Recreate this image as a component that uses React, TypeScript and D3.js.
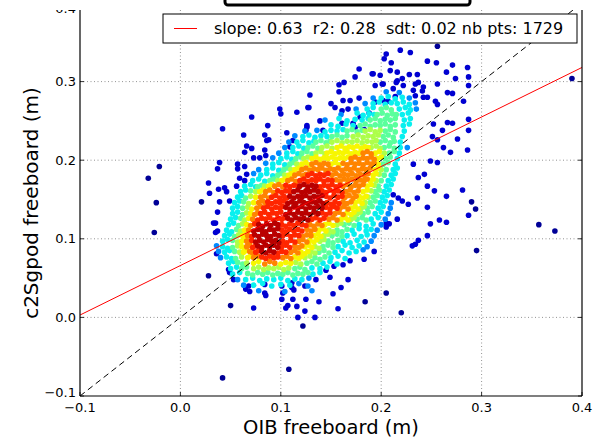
import React from "react";
import * as d3 from "d3";

// ---------- axis / legend data ----------
const xTicks = [-0.1, 0.0, 0.1, 0.2, 0.3, 0.4];
const yTicks = [-0.1, 0.0, 0.1, 0.2, 0.3];
const xGrid = [0.0, 0.1, 0.2, 0.3];
const yGrid = [0.0, 0.1, 0.2, 0.3];
const fitSlope = 0.63;
const fitIntercept = 0.066;
const legendLabel = "slope: 0.63  r2: 0.28  sdt: 0.02 nb pts: 1729";
const xLabel = "OIB freeboard (m)";
const yLabel = "c2Sgpod freeboard (m)";

// ---------- scatter points: flat x,y pairs in millimetres, grouped by point density (colour level) ----------
const outlierPts = [390,304, 357,118, 373,110, 295,85, -21,192, -32,177, -24,146, -26,108, 42,-77, 108,-66, 220,6, 122,-11, 294,138, 290,147, 256,345, 21,147, 28,53, 50,15, 184,20, 205,31];

const bluePts = [
  219,340, 229,337, 205,335, 203,329, 210,324, 246,326, 255,324, 271,321, 286,318, 178,316, 192,310, 174,306, 201,297, 158,296, 163,299, 215,299, 221,304, 228,309, 236,309, 234,297, 242,293, 246,280, 256,297, 265,312, 274,304, 287,306, 287,295, 271,285, 266,286, 282,275, 287,252, 287,238, 286,213, 276,227, 271,247, 266,248, 261,238, 262,216, 269,210, 256,226, 251,230, 252,246, 256,271, 254,275,
  232,195, 249,199, 256,197, 237,178, 243,182, 246,167, 253,161, 265,154, 281,162, 287,130, 236,152, 227,144, 246,140, 249,119, 258,124, 265,121, 237,98, 234,93, 231,91, 246,104, 221,148, 217,152, 212,156, 216,125, 208,119, 205,115, 205,120, 193,84,
  134,0, 124,8, 157,11, 138,20, 152,30, 160,38, 124,40, 167,48, 135,48, 149,51, 145,60, 153,65, 162,67, 169,72, 183,74,
  49,57, 65,36, 68,40, 84,31, 85,28, 73,12, 105,12, 107,15, 116,14, 112,23, 101,23, 102,31, 111,38, 113,35, 125,23, 117,0, 111,44, 101,40, 84,42, 53,48, 48,61, 69,33,
  36,81, 35,120, 29,158, 28,171, 38,163, 44,165, 46,160, 39,147, 49,148, 37,134, 33,120, 56,167, 59,177, 57,189, 64,192, 66,182, 57,195, 39,197, 37,189, 64,174, 64,210, 66,218, 63,232, 71,215, 73,203, 79,203, 84,213, 85,206, 86,225, 88,226, 87,244, 84,232, 99,265, 100,259, 106,235, 112,225, 116,261, 126,244, 127,267, 129,283, 71,255, 42,240, 109,217, 35,108, 37,110,
  128,267, 126,242, 125,238, 139,250, 142,238, 150,272, 154,267, 158,287, 162,276, 169,276, 167,265, 161,263, 161,247, 172,247, 174,242, 178,279, 179,255, 183,239, 188,260, 194,274, 202,276, 207,275, 214,281, 212,291, 202,297, 232,289, 241,288, 234,282, 242,280, 194,295, 199,308, 209,314, 216,312, 191,310, 216,301, 222,295, 237,299
];

const cyanBluePts = [
  78,34, 104,33, 131,34, 63,41, 118,43, 127,40, 57,48, 128,50, 40,76, 38,84, 36,91,
  182,86, 186,90, 190,97, 193,104, 196,111, 200,118, 204,125, 207,132, 209,139, 210,146,
  73,183, 78,188, 85,196, 92,203, 98,209, 104,216, 226,216, 108,223, 114,231, 124,237, 136,238, 144,251, 160,258, 175,265, 235,265, 184,272, 234,273, 192,279, 228,279, 205,287, 218,286
];

const cyanPts = [
  73,41, 82,43, 91,40, 100,42, 109,41,
  65,48, 72,50, 79,47, 86,49, 93,48, 100,50, 107,47, 114,49, 121,48,
  52,55, 59,57, 132,55, 139,57,
  50,62, 56,64, 131,63, 139,62, 146,64,
  48,69, 53,71, 142,69, 149,71, 156,68,
  46,77, 51,75, 150,76, 157,78, 164,75,
  44,83, 49,85, 154,83, 161,85, 168,82, 175,84,
  42,90, 47,88, 157,90, 164,92, 171,89, 178,91,
  42,97, 47,99, 162,97, 169,95, 176,98, 183,96,
  44,104, 49,106, 166,104, 173,106, 180,103, 186,105,
  46,111, 51,109, 171,111, 178,113, 185,110, 190,112,
  48,118, 53,120, 178,118, 185,116, 192,119,
  50,125, 55,127, 190,125, 197,127,
  52,132, 57,134, 194,132, 200,134,
  52,139, 57,141, 197,139, 202,141,
  54,146, 59,148, 199,146, 204,148,
  57,153, 61,155, 201,153, 206,155,
  60,160, 65,162, 203,160, 208,162,
  64,167, 70,169, 75,166, 205,167, 210,169,
  72,174, 78,176, 84,173, 207,174, 212,176,
  80,181, 86,183, 92,180, 210,181, 214,183,
  86,188, 92,190, 98,187, 212,188, 216,190,
  92,195, 98,197, 104,194, 214,195,
  100,202, 106,204, 111,201, 216,202,
  106,209, 112,211, 117,208, 218,209,
  112,216, 118,218, 123,215, 219,216,
  116,223, 122,225, 128,222, 133,224, 219,223,
  122,230, 128,232, 134,229, 140,231, 146,230, 221,230,
  144,236, 150,238, 156,237, 162,239, 223,237,
  150,245, 157,243, 165,246, 172,244, 222,244, 228,246,
  158,253, 166,250, 174,252, 181,251, 187,253, 223,251, 229,253,
  176,260, 182,257, 188,259, 193,258, 221,258, 227,260,
  186,265, 192,267, 218,265, 224,267, 229,264,
  192,272, 198,274, 204,271, 210,273, 216,272, 222,274, 228,271,
  200,279, 207,281, 214,278, 221,280
];

const greenPts = [
  67,56, 72,54, 77,57, 82,55, 87,57, 92,54, 97,56, 102,55, 107,57, 112,54, 117,56, 122,55, 127,57,
  61,62, 66,64, 114,62, 119,64, 124,61,
  57,70, 62,68, 126,69, 131,71, 136,68,
  55,75, 134,76, 139,74, 144,77,
  54,84, 138,83, 143,85, 148,82,
  52,89, 142,90, 147,92, 152,89,
  52,98, 147,97, 152,95, 157,98,
  54,103, 151,104, 156,106, 161,103,
  56,112, 156,111, 161,109, 166,112,
  58,117, 163,118, 168,120, 173,117,
  60,126, 176,125, 181,127, 185,124,
  62,131, 182,132, 187,134,
  62,139, 186,139, 191,141,
  63,147, 189,146, 194,148,
  65,152, 192,153, 196,155,
  70,161, 194,160, 198,162,
  77,166, 81,168, 197,167,
  89,174, 93,176, 200,174,
  97,181, 101,183, 203,181,
  103,188, 107,190, 205,188,
  109,195, 113,197, 202,195, 207,197,
  115,202, 120,204, 204,202, 209,204,
  121,209, 126,211, 131,208, 208,209, 213,211,
  127,216, 132,218, 137,215, 203,216, 208,218, 213,215,
  135,223, 140,225, 145,222, 149,224, 199,223, 204,225, 209,222, 213,224,
  151,230, 156,232, 161,229, 166,231, 202,230, 207,232, 212,229,
  166,237, 171,239, 176,236, 181,238, 204,237, 209,239, 214,236,
  179,244, 184,246, 189,243, 194,245, 199,244, 204,246, 209,243, 214,245,
  189,251, 194,253, 199,250, 204,252, 209,251, 214,253,
  196,258, 201,260, 206,257, 211,259, 215,258,
  200,265, 205,267, 210,264
];

const yellowGreenPts = [
  73,62, 78,64, 83,61, 88,63, 93,62, 98,64, 103,61, 108,63,
  66,69, 115,70, 120,68,
  61,77, 124,76, 129,78,
  59,83, 130,84, 134,82,
  57,91, 134,90, 138,88,
  57,96, 139,97, 143,99,
  58,105, 143,104, 147,106,
  60,110, 148,111, 152,109,
  62,119, 156,118, 160,120,
  64,124, 170,125, 173,127,
  66,133, 176,132, 179,134,
  67,140, 180,139, 183,141,
  68,145, 184,146,
  70,154, 187,153,
  75,160, 190,161,
  84,167, 193,168,
  97,174, 195,174,
  104,181, 198,182,
  110,188, 200,188,
  116,195,
  123,202, 127,204,
  135,209, 140,211, 144,208, 203,209,
  141,216, 146,218, 151,215, 190,216, 195,218, 199,215,
  151,223, 156,225, 161,222, 166,224, 171,223, 176,225, 181,222, 186,224, 191,223, 195,225,
  172,230, 177,232, 182,229, 187,231, 192,230, 197,232,
  184,237, 189,239, 194,236, 199,238
];

const yellowPts = [
  73,69, 78,71, 100,68, 105,70, 110,69,
  67,76, 70,78, 114,77, 118,75, 121,78,
  63,83, 66,85, 120,83, 124,81, 127,84,
  61,90, 64,88, 124,90, 128,92, 131,89,
  61,97, 64,99, 129,98, 133,96, 136,99,
  62,104, 65,102, 133,104, 137,106, 140,103,
  64,111, 138,111, 142,113, 145,110,
  66,118, 144,118, 148,120, 152,117,
  68,126, 160,125, 164,127, 167,124,
  70,132, 166,133, 170,131, 173,134,
  71,138, 170,139, 174,141, 177,138,
  73,146, 174,146, 178,148, 181,145,
  75,153, 178,154, 182,152, 185,154,
  79,160, 82,162, 182,160, 186,162,
  88,167, 91,169, 186,167, 190,169,
  101,174, 104,176, 189,174, 192,176,
  108,181, 111,183, 192,181, 195,183,
  114,188, 118,190, 194,188, 197,190,
  121,195, 125,197, 129,194, 150,195, 154,197, 158,194, 197,195,
  131,202, 135,204, 139,201, 143,203, 147,202, 151,204, 155,201, 159,203, 163,202, 167,204, 196,202, 200,204,
  146,209, 150,211, 154,208, 158,210, 162,209, 166,211, 170,208, 174,210, 178,209, 194,209, 198,211,
  156,216, 160,218, 164,215, 168,217, 172,216, 176,218, 180,215, 184,217, 187,216
];

const orangePts = [
  84,68, 89,71, 94,69,
  73,76, 77,78, 102,76, 106,78, 110,75,
  69,84, 72,82, 110,83, 114,85, 117,82,
  66,90, 69,92, 114,91, 118,89, 121,91,
  66,97, 69,95, 118,97, 122,99, 126,96,
  67,104, 122,103, 126,105, 130,104,
  68,111, 126,112, 130,110, 134,112,
  70,117, 129,118, 133,116, 137,119, 141,117,
  72,125, 148,125, 152,127, 156,124,
  74,131, 77,133, 154,132, 158,134, 162,131,
  76,139, 80,141, 159,139, 163,141, 167,138,
  78,146, 82,148, 85,145, 162,147, 166,145, 170,147,
  80,153, 84,155, 88,152, 164,153, 168,155, 172,152, 175,154,
  85,160, 89,162, 93,159, 165,160, 169,162, 173,159, 177,161,
  94,167, 98,169, 102,166, 162,167, 166,169, 170,166, 174,168, 178,167, 182,169,
  107,174, 111,176, 115,173, 155,175, 159,173, 163,176, 167,174, 171,176, 175,173, 179,175, 183,174, 186,176,
  114,181, 118,183, 122,180, 125,182, 151,181, 155,183, 159,180, 163,182, 167,181, 171,183, 175,180, 179,182, 183,181, 187,183,
  121,188, 125,190, 129,187, 133,189, 137,188, 141,190, 145,187, 149,189, 153,188, 157,190, 161,187, 165,189, 169,188, 173,190, 177,187, 181,189, 185,188, 189,190,
  131,195, 135,197, 139,194, 143,196, 147,195, 162,196, 166,194, 170,197, 174,195, 178,196, 182,194, 186,197, 190,195, 193,196,
  170,202, 174,204, 178,201, 182,203, 186,202, 190,204, 193,201,
  182,209, 186,211, 190,208
];

const redPts = [
  81,77, 85,75, 89,78, 93,76, 97,77,
  75,83, 78,85, 97,82, 101,84, 105,83,
  72,89, 75,91, 101,90, 105,92, 109,89,
  71,98, 102,97, 106,95, 110,98, 114,96,
  71,103, 102,104, 106,106, 110,103, 114,105, 118,104,
  101,111, 105,109, 109,112, 113,110, 117,112, 121,110,
  74,119, 101,118, 105,116, 109,119, 113,117, 117,120, 121,118, 125,117,
  77,124, 81,126, 85,125, 89,127, 93,124, 97,126, 101,125, 104,127, 131,125, 135,127, 139,124, 143,126,
  80,132, 84,134, 88,131, 92,133, 96,132, 100,134, 141,133, 145,131, 149,133,
  83,139, 87,141, 91,138, 95,140, 99,139, 102,141, 145,140, 149,138, 153,141, 156,139,
  87,147, 91,145, 95,147, 99,146, 103,148, 146,146, 150,144, 154,147, 158,145,
  91,153, 95,155, 99,152, 103,154, 106,152, 145,154, 149,152, 153,155, 157,153, 161,154,
  97,161, 101,159, 105,161, 109,160, 141,161, 145,159, 149,162, 153,160, 157,161, 161,159,
  105,168, 109,166, 113,168, 117,167, 139,166, 143,168, 147,167, 151,169, 155,166, 159,168,
  119,174, 123,176, 127,173, 131,175, 135,174, 139,176, 143,173, 147,175, 151,174,
  127,181, 131,183, 135,180, 139,182, 143,181, 147,183
];

const darkRedPts = [
  81,84, 85,82, 89,85, 93,83,
  77,91, 81,89, 85,92, 89,90, 93,92, 97,89,
  75,96, 79,98, 83,96, 87,99, 91,97, 95,98, 98,95,
  74,105, 78,103, 82,106, 86,104, 90,103, 94,106, 98,104,
  73,110, 77,112, 81,111, 85,109, 89,112, 93,111, 97,113,
  78,118, 82,116, 86,119, 90,117, 94,120, 97,118,
  107,126, 111,124, 115,127, 119,125, 123,126, 127,124,
  105,131, 109,133, 113,131, 117,134, 121,132, 125,133, 129,131, 133,134, 137,132,
  105,140, 109,138, 113,141, 117,139, 121,141, 125,138, 129,140, 133,139, 137,141, 141,139,
  107,145, 111,147, 115,145, 119,148, 123,146, 127,145, 131,147, 135,146, 139,148, 142,145,
  109,154, 113,152, 117,154, 121,153, 125,155, 129,152, 133,154, 137,153, 141,155,
  113,160, 117,162, 121,159, 125,161, 129,160, 133,162, 137,160,
  119,167, 123,169, 127,166, 131,168, 135,167
];

// density level (0..1 on the jet colour scale) for each group
const densityGroups: { pts: number[]; level: number }[] = [
  { pts: outlierPts, level: 0.02 },
  { pts: bluePts, level: 0.07 },
  { pts: cyanBluePts, level: 0.26 },
  { pts: cyanPts, level: 0.36 },
  { pts: greenPts, level: 0.46 },
  { pts: yellowGreenPts, level: 0.56 },
  { pts: yellowPts, level: 0.65 },
  { pts: orangePts, level: 0.77 },
  { pts: redPts, level: 0.87 },
  { pts: darkRedPts, level: 0.95 },
];

// matplotlib "jet" colormap segment data
const jetR = d3.scaleLinear<number>().domain([0, 0.35, 0.66, 0.89, 1]).range([0, 0, 1, 1, 0.5]).clamp(true);
const jetG = d3.scaleLinear<number>().domain([0, 0.125, 0.375, 0.64, 0.91, 1]).range([0, 0, 1, 1, 0, 0]).clamp(true);
const jetB = d3.scaleLinear<number>().domain([0, 0.11, 0.34, 0.65, 1]).range([0.5, 1, 1, 0, 0]).clamp(true);
const jet = (t: number) => d3.rgb(jetR(t) * 255, jetG(t) * 255, jetB(t) * 255).formatHex();

const W = 596, H = 438;
const L = 80, R = 582, T = 10, B = 396;
const FONT = "'DejaVu Sans', sans-serif";

const fmt = (v: number) => {
  const s = Math.abs(v).toFixed(1);
  return v < -1e-9 ? "\u2212" + s : s;
};

export default function App() {
  const x = d3.scaleLinear().domain([-0.1, 0.4]).range([L, R]);
  const y = d3.scaleLinear().domain([-0.1, 0.4]).range([B, 3]);

  const circles: JSX.Element[] = [];
  densityGroups.forEach((g, gi) => {
    const col = jet(g.level);
    for (let i = 0; i + 1 < g.pts.length; i += 2) {
      circles.push(
        <circle key={`${gi}-${i}`} cx={x(g.pts[i] / 1000)} cy={y(g.pts[i + 1] / 1000)} r={2.8} fill={col} />
      );
    }
  });

  const fitLine = d3.line<number>().x((d) => x(d)).y((d) => y(fitSlope * d + fitIntercept));
  const idLine = d3.line<number>().x((d) => x(d)).y((d) => y(d));

  return (
    <svg width={W} height={H} style={{ position: "absolute", left: 0, top: 0, background: "#fff" }}>
      <defs>
        <clipPath id="plot">
          <rect x={L} y={T} width={R - L} height={B - T} />
        </clipPath>
        <clipPath id="toplab">
          <rect x={0} y={10} width={80} height={3} />
        </clipPath>
      </defs>
      <rect x={0} y={0} width={W} height={H} fill="#fff" />

      {/* grid */}
      <g stroke="#777" strokeWidth={0.8} strokeDasharray="1,2.5">
        {xGrid.map((v) => (
          <line key={"gx" + v} x1={x(v)} x2={x(v)} y1={T} y2={B} />
        ))}
        {yGrid.map((v) => (
          <line key={"gy" + v} x1={L} x2={R} y1={y(v)} y2={y(v)} />
        ))}
      </g>

      <g clipPath="url(#plot)">
        {circles}
        <path d={idLine([-0.1, 0.4]) || ""} stroke="#000" strokeWidth={1} strokeDasharray="6,4" fill="none" />
        <path d={fitLine([-0.1, 0.4]) || ""} stroke="#ff0000" strokeWidth={1} fill="none" />
      </g>

      {/* frame */}
      <g stroke="#000" strokeWidth={1.2} fill="none">
        <line x1={L} x2={L} y1={T} y2={B} />
        <line x1={R} x2={R} y1={T} y2={B} />
        <line x1={L} x2={R} y1={B} y2={B} />
      </g>

      {/* ticks */}
      <g stroke="#000" strokeWidth={0.8}>
        {xTicks.map((v) => (
          <line key={"tx" + v} x1={x(v)} x2={x(v)} y1={B} y2={B - 4} />
        ))}
        {yTicks.map((v) => (
          <g key={"ty" + v}>
            <line x1={L} x2={L + 4} y1={y(v)} y2={y(v)} />
            <line x1={R} x2={R - 4} y1={y(v)} y2={y(v)} />
          </g>
        ))}
      </g>

      {/* tick labels */}
      <g fontFamily={FONT} fontSize={13} fill="#000">
        {xTicks.map((v) => (
          <text key={"lx" + v} x={x(v)} y={412} textAnchor="middle">
            {fmt(v)}
          </text>
        ))}
        {yTicks.map((v) => (
          <text key={"ly" + v} x={L - 4} y={v < -0.05 ? y(v) + 1 : y(v) + 4.5} textAnchor="end">
            {fmt(v)}
          </text>
        ))}
        <text x={L - 4} y={13} textAnchor="end" clipPath="url(#toplab)">0.4</text>
      </g>

      {/* axis titles */}
      <text x={(L + R) / 2} y={434} textAnchor="middle" fontFamily={FONT} fontSize={19.5}>
        {xLabel}
      </text>
      <text transform={`translate(38,${(T + B) / 2}) rotate(-90)`} textAnchor="middle" fontFamily={FONT} fontSize={20}>
        {yLabel}
      </text>

      {/* legend */}
      <rect x={163} y={14} width={414} height={29} fill="#fff" stroke="#000" strokeWidth={1} />
      <line x1={174} x2={197} y1={28.5} y2={28.5} stroke="#ff0000" strokeWidth={1} />
      <text x={214} y={34} fontFamily={FONT} fontSize={16} style={{ whiteSpace: "pre" }}>
        {legendLabel}
      </text>

      {/* clipped title box at the very top */}
      <rect x={225} y={-20} width={245} height={25} rx={3} fill="#fff" stroke="#000" strokeWidth={3} />
    </svg>
  );
}
